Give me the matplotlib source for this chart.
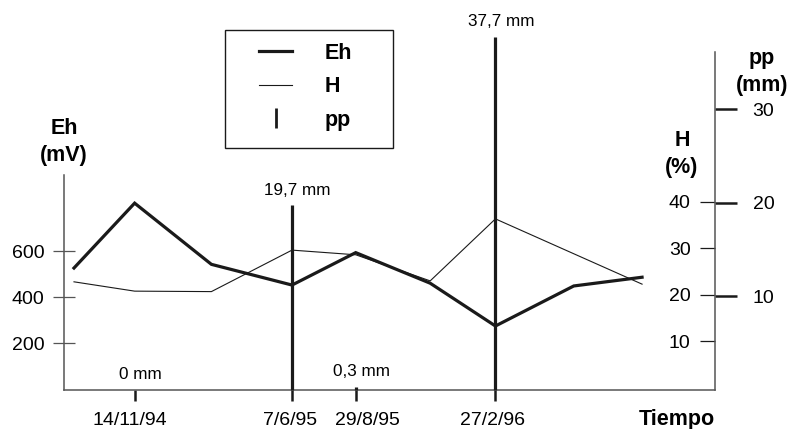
import matplotlib
matplotlib.use('Agg')
import matplotlib.pyplot as plt
import matplotlib.transforms as mtransforms
from matplotlib.lines import Line2D
from matplotlib.patches import Rectangle
import pandas as pd

plt.rcParams['font.family'] = ['Liberation Sans', 'DejaVu Sans']

# ---------------- data ----------------
sample_dates = ['1994-08-27', '1994-11-14', '1995-02-22', '1995-06-07', '1995-08-29',
                '1995-12-04', '1996-02-27', '1996-06-08', '1996-09-05']
eh_values = [528, 810, 544, 454, 595, 462, 276, 450, 488]

h_dates = ['1994-08-27', '1994-11-14', '1995-02-22', '1995-06-07', '1995-08-29',
           '1995-12-04', '1996-02-27', '1996-09-05']
h_values = [22.8, 20.8, 20.7, 29.6, 28.6, 23.0, 36.3, 22.3]

pp_dates = ['1994-11-14', '1995-06-07', '1995-08-29', '1996-02-27']
pp_values = [0, 19.7, 0.3, 37.7]
pp_labels = ['0 mm', '19,7 mm', '0,3 mm', '37,7 mm']
tick_labels = ['14/11/94', '7/6/95', '29/8/95', '27/2/96']

eh_ticks = [200, 400, 600]
h_ticks = [10, 20, 30, 40]
pp_ticks = [10, 20, 30]

# ---------------- figure ----------------
W, H = 793, 429
fig = plt.figure(figsize=(W / 100, H / 100), dpi=100)

def fx(px):
    return px / W

def fy(py):
    return 1 - py / H

ax = fig.add_axes([fx(64), fy(389.5), fx(715) - fx(64), fy(52) - fy(389.5)])
ax.patch.set_visible(False)

line_col = '#1a1a1a'
spine_col = '#555555'

x_s = pd.to_datetime(sample_dates)
x_h = pd.to_datetime(h_dates)
x_pp = pd.to_datetime(pp_dates)

ax.set_xlim(pd.Timestamp('1994-08-14'), pd.Timestamp('1996-12-09'))
ax.set_ylim(0, 1467)

ax.plot(x_s, eh_values, color=line_col, lw=2.3, solid_joinstyle='miter', zorder=5)

for s in ['top', 'right']:
    ax.spines[s].set_visible(False)
ax.spines['left'].set_bounds(0, 932)
for s in ['left', 'bottom']:
    ax.spines[s].set_color(spine_col)
    ax.spines[s].set_linewidth(1.1)

ax.set_yticks(eh_ticks)
ax.set_yticklabels([str(v) for v in eh_ticks])
ax.tick_params(axis='y', direction='inout', length=16, width=0.9, pad=6,
               labelsize=14, color=spine_col)
ax.set_xticks(x_pp)
ax.set_xticklabels(tick_labels)
ax.tick_params(axis='x', direction='out', length=8, width=1.8, pad=8,
               labelsize=14, color=line_col)
# small horizontal nudges of the date labels, as in the original
for lab, dx in zip(ax.get_xticklabels(), [-5, -2, 12, -3]):
    lab.set_transform(lab.get_transform() +
                      mtransforms.ScaledTranslation(dx / 100, 0, fig.dpi_scale_trans))

# H axis (ticks to the left of the right spine)
ax_h = ax.twinx()
ax_h.set_ylim(-0.3, 72.1)
ax_h.plot(x_h, h_values, color=line_col, lw=0.8, zorder=4)
ax_h.yaxis.tick_left()
ax_h.spines['left'].set_position(('axes', 1.0))
for s in ['top', 'right', 'bottom', 'left']:
    ax_h.spines[s].set_visible(False)
ax_h.set_yticks(h_ticks)
ax_h.set_yticklabels([str(v) for v in h_ticks])
ax_h.tick_params(axis='y', direction='out', length=11, width=0.9, pad=6.5,
                 labelsize=14, color=line_col)

# pp axis
ax_pp = ax.twinx()
ax_pp.set_ylim(0, 36.1)
for s in ['top', 'left', 'bottom']:
    ax_pp.spines[s].set_visible(False)
ax_pp.spines['right'].set_color(spine_col)
ax_pp.spines['right'].set_linewidth(1.1)
ax_pp.set_yticks(pp_ticks)
ax_pp.set_yticklabels([str(v) for v in pp_ticks])
ax_pp.tick_params(axis='y', direction='out', length=16, width=1.8, pad=11,
                  labelsize=14, color=line_col)

ax_pp.vlines(x_pp, 0, pp_values, color=line_col, lw=2.3, clip_on=False, zorder=6)
for xd, v, lab in zip(x_pp, pp_values, pp_labels):
    ax_pp.annotate(lab, (xd, v), xytext=(4, 11), textcoords='offset points',
                   ha='center', va='center', fontsize=12.3, annotation_clip=False)

# axis titles
fig.text(fx(64), fy(142), 'Eh\n(mV)', ha='center', va='center', fontsize=15.5,
         fontweight='bold', linespacing=1.4)
fig.text(fx(682), fy(154), 'H\n(%)', ha='center', va='center', fontsize=15.5,
         fontweight='bold', linespacing=1.4)
fig.text(fx(762), fy(72), 'pp\n(mm)', ha='center', va='center', fontsize=15.5,
         fontweight='bold', linespacing=1.4)
fig.text(fx(715), fy(420), 'Tiempo', ha='right', va='center', fontsize=15.5,
         fontweight='bold')

# legend
handles = [Line2D([], [], color=line_col, lw=2.3),
           Line2D([], [], color=line_col, lw=0.8),
           Line2D([], [], color=line_col, lw=0, marker='|', markersize=14, mew=2)]
fig.legend(handles, ['Eh', 'H', 'pp'], loc='upper left',
           bbox_to_anchor=(fx(259), fy(43)), frameon=False, borderpad=0,
           borderaxespad=0, handlelength=1.55, handletextpad=1.5, labelspacing=0.58,
           prop={'weight': 'bold', 'size': 15.5})
fig.add_artist(Rectangle((fx(225), fy(148)), fx(393) - fx(225), fy(30) - fy(148),
                         transform=fig.transFigure, fill=False,
                         edgecolor=line_col, lw=1.0))

fig.savefig('out.png', dpi=100)
